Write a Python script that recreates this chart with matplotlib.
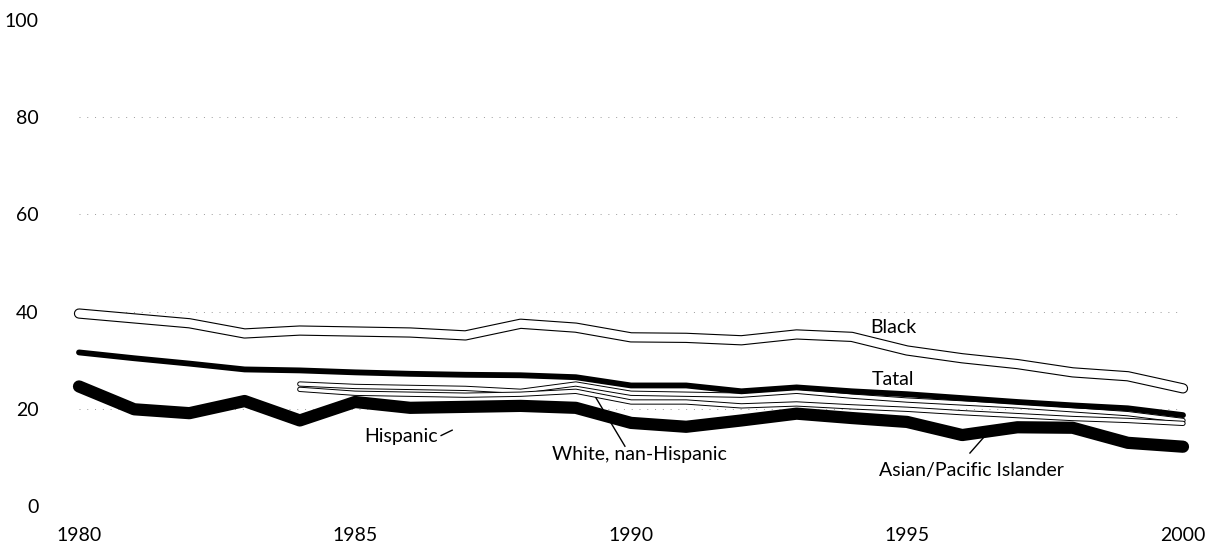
import matplotlib
matplotlib.use("Agg")
import matplotlib.pyplot as plt

# data
years = list(range(1980, 2001))
years_84 = list(range(1984, 2001))

black = [39.6, 38.6, 37.6, 35.5, 36.1, 35.9, 35.7, 35.1, 37.5, 36.7, 34.7,
         34.6, 34.1, 35.3, 34.8, 32.0, 30.4, 29.2, 27.5, 26.7, 24.2]
total = [31.6, 30.4, 29.3, 28.1, 27.9, 27.5, 27.2, 27.0, 26.9, 26.5, 24.8,
         24.8, 23.6, 24.4, 23.6, 23.0, 22.2, 21.4, 20.7, 20.1, 18.7]
asian = [24.6, 19.9, 19.1, 21.6, 17.6, 21.4, 20.2, 20.4, 20.6, 20.2, 17.1,
         16.3, 17.6, 19.0, 18.1, 17.3, 14.6, 16.2, 16.1, 13.0, 12.2]
hispanic = [25.1, 24.6, 24.4, 24.2, 23.6, 25.1, 23.2, 23.0, 22.8, 23.6,
            22.6, 21.8, 21.2, 20.6, 19.8, 19.0, 17.6]
white = [24.0, 23.2, 23.0, 22.8, 23.0, 23.6, 21.4, 21.4, 20.6, 21.0, 20.4,
         19.9, 19.2, 18.6, 18.0, 17.6, 17.0]

yticks = [0, 20, 40, 60, 80, 100]
xticks = [1980, 1985, 1990, 1995, 2000]

plt.rcParams['font.family'] = ['Lato', 'DejaVu Sans']

fig = plt.figure(figsize=(12.14, 5.44), dpi=100)
ax = fig.add_axes([79 / 1214, 1 - 506 / 544, (1183 - 79) / 1214, (506 - 20) / 544])
ax.set_xlim(1980, 2000)
ax.set_ylim(0, 100)

# faint dotted grid
for v in [0, 20, 40, 60, 80]:
    ax.axhline(v, color='#9a9a9a', lw=0.7, linestyle=(0, (1, 7)), zorder=0)

line_kw = dict(solid_capstyle='round', solid_joinstyle='round', clip_on=False)

# hollow lines: black outline with white core
ax.plot(years, black, color='black', lw=7.4, zorder=2, **line_kw)
ax.plot(years, black, color='white', lw=5.8, zorder=2.1, **line_kw)

ax.plot(years_84, hispanic, color='black', lw=3.8, zorder=3, **line_kw)
ax.plot(years_84, hispanic, color='white', lw=2.4, zorder=3.1, **line_kw)
ax.plot(years_84, white, color='black', lw=3.8, zorder=3.2, **line_kw)
ax.plot(years_84, white, color='white', lw=2.4, zorder=3.3, **line_kw)

ax.plot(years, total, color='black', lw=4.2, zorder=4, **line_kw)
ax.plot(years, asian, color='black', lw=8.8, zorder=5, **line_kw)

# series labels
fs = 14
ax.text(1994.75, 36.8, 'Black', fontsize=fs, ha='center', va='center')
ax.text(1994.75, 26.1, 'Tatal', fontsize=fs, ha='center', va='center')
ax.text(1985.83, 14.2, 'Hispanic', fontsize=fs, ha='center', va='center')
ax.plot([1986.56, 1986.76], [14.5, 15.6], color='black', lw=1)
ax.text(1990.16, 10.6, 'White, nan-Hispanic', fontsize=fs, ha='center', va='center')
ax.plot([1989.31, 1989.89], [23.3, 12.3], color='black', lw=1)
ax.text(1996.16, 7.4, 'Asian/Pacific Islander', fontsize=fs, ha='center', va='center')
ax.plot([1996.14, 1996.38], [10.9, 14.0], color='black', lw=1)

ax.set_yticks(yticks)
ax.set_xticks(xticks)
ax.set_xticklabels([str(x) for x in xticks])
ax.tick_params(axis='y', length=0, pad=29, labelsize=fs)
ax.tick_params(axis='x', length=0, pad=15, labelsize=fs)
for s in ax.spines.values():
    s.set_visible(False)

fig.savefig('out.png', dpi=100, facecolor='white')
